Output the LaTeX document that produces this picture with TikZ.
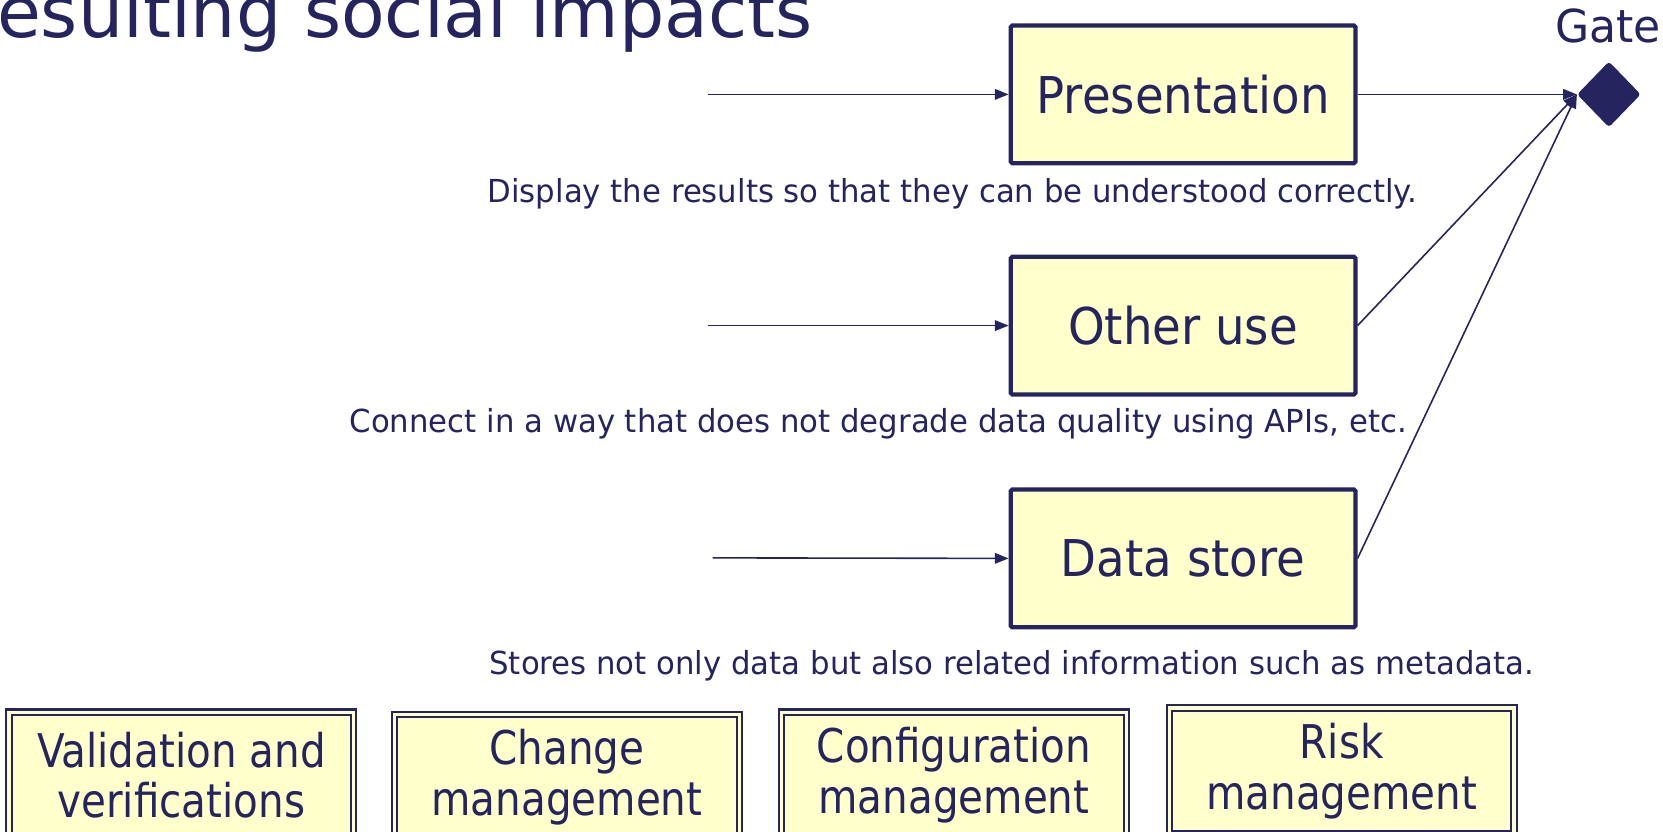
\documentclass[tikz,border=0pt]{standalone}
\usepackage{fontspec}
\setmainfont{DejaVu Sans}[FakeStretch=0.87]
\newfontfamily\titlefont{DejaVu Sans}
\newfontfamily\boxfont{DejaVu Sans}[FakeStretch=0.92]
\newfontfamily\capfont{DejaVu Sans}[FakeStretch=0.97]
\usetikzlibrary{arrows.meta,shapes.geometric}
\definecolor{navy}{RGB}{37,36,94}
\definecolor{boxyellow}{RGB}{255,255,204}
\tikzset{
  mainbox/.style={draw=navy, line width=4bp, fill=boxyellow, rounded corners=1.5bp,
    minimum width=325bp, minimum height=130bp, text=navy, inner sep=0pt,
    font=\boxfont\fontsize{48}{56}\selectfont},
  dblbox/.style={draw=navy, line width=2bp, double=boxyellow, double distance=3bp,
    fill=boxyellow, minimum width=325bp, minimum height=119bp, text=navy, align=center,
    inner sep=0pt, font=\fontsize{44}{48}\selectfont},
  caption/.style={text=navy, inner sep=0pt, font=\capfont\fontsize{30}{34}\selectfont},
  conn/.style={draw=navy, line width=1.5bp, -{Triangle[length=13bp,width=10bp]}},
  gatestyle/.style={diamond, fill=navy, minimum width=60bp, minimum height=62bp,
    inner sep=0pt, rounded corners=3bp}
}
\begin{document}
\begin{tikzpicture}[x=1bp,y=-1bp]
\useasboundingbox (0,0) rectangle (1568,784);
\clip (0,0) rectangle (1568,784);
% title
\node[anchor=base west, text=navy, inner sep=0pt, font=\titlefont\fontsize{67.5}{72}\selectfont] (title) at (-3,35) {esulting social impacts};
\node[anchor=base west, text=navy, inner sep=0pt, font=\capfont\fontsize{43}{50}\selectfont] (gatelabel) at (1466,40) {Gate};
\node[gatestyle] (gate) at (1517,89) {};
% main boxes
\node[mainbox] (pres) at (1115.5,89) {Presentation};
\node[mainbox] (other) at (1115.5,307) {Other use};
\node[mainbox] (store) at (1115.5,526.5) {Data store};
% incoming
\coordinate (in1) at (668,89);
\coordinate (in2) at (668,307);
\coordinate (in3) at (672,526);
\draw[conn] (in1) -- (pres.west);
\draw[conn] (in2) -- (other.west);
\draw[conn] (in3) -- (store.west);
% to gate
\draw[conn] (pres.east) -- (gate.west);
\draw[conn] (other.east) -- (gate.west);
\draw[conn] (store.east) -- (gate.west);
% captions
\node[caption] (c1) at (898,183) {Display the results so that they can be understood correctly.};
\node[caption] (c2) at (828,400) {Connect in a way that does not degrade data quality using APIs, etc.};
\node[caption] (c3) at (954,628) {Stores not only data but also related information such as metadata.};
% bottom boxes
\node[dblbox] (b1) at (171,731) {Validation and\\verifications};
\node[dblbox] (b2) at (534.5,733) {Change\\management};
\node[dblbox] (b3) at (899.5,731) {Configuration\\management};
\node[dblbox] (b4) at (1265,727) {Risk\\management};
\end{tikzpicture}
\end{document}
